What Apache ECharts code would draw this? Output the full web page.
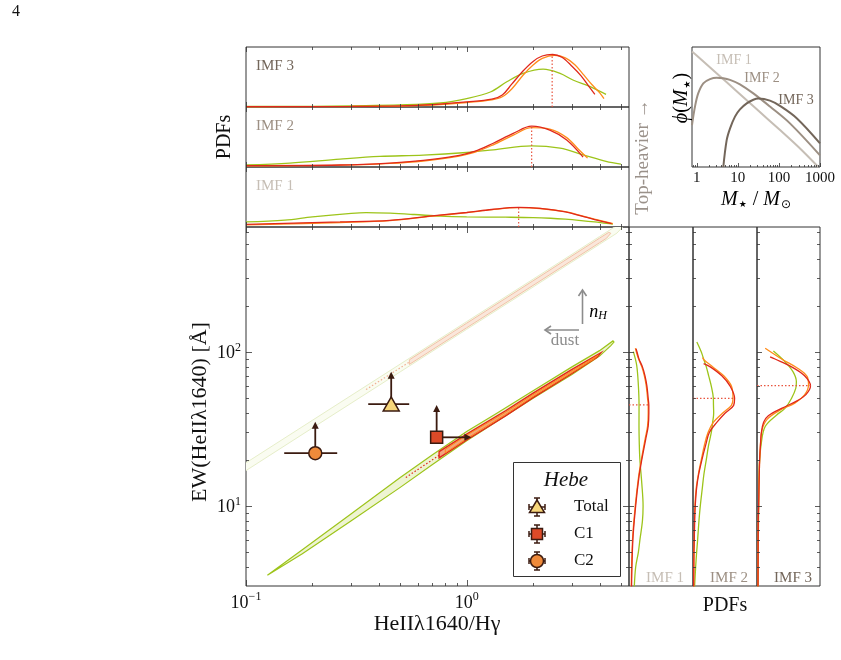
<!DOCTYPE html>
<html>
<head>
<meta charset="utf-8">
<script src="https://cdn.jsdelivr.net/npm/echarts@6.0.0/dist/echarts.min.js"></script>
<style>
html,body{margin:0;padding:0;background:#ffffff;}
#chart{width:841px;height:660px;}
</style>
</head>
<body>
<div id="chart"></div>
<script>
// ======================= DATA =======================
// Hebe measurements (main panel): x = HeII1640/Hgamma, y = EW(HeII1640)
const hebeNames = ['Total', 'C1', 'C2'];
const hebeX = [0.455, 0.731, 0.206];
const hebeY = [45.9, 27.9, 22.0];
const hebeXErrLo = [0.358, null, 0.149];
const hebeXErrHi = [0.549, null, 0.259];
const hebeYLimitTo = [74.5, 45.3, 35.2];   // lower-limit arrows (EW)
const hebeXLimitTo = [null, 1.05, null];   // lower-limit arrow (ratio)

// model contours in the main panel (closed outlines: [ratio, EW])
const faintOuter = [[0.09,17.3],[0.2,36.0],[0.5,83.4],[1,157.5],[2,297],[3,431],[4,562],[5,689],[5.1,650],[4.8,592],[4,500],[3,384],[2,264],[1,140.3],[0.5,74.3],[0.2,32.1],[0.09,15.4]];
const faintInner = [[0.55,89],[1,153.8],[2,290],[3,421],[4,548.6],[4.4,598],[4.5,590],[4.3,547],[4,512],[3,393],[2,270.5],[1,143.5],[0.55,83]];
const faintDots = [[0.35,57],[0.55,86]];
const lowerGreen = [[0.125,3.55],[0.18,5.2],[0.3,8.9],[0.5,15.3],[0.7,21.5],[1,30.4],[1.37,40],[2,56],[3,80],[4,102],[4.6,118],[4.65,116],[4.5,110],[4,94],[3,71.5],[2,50],[1,26.5],[0.7,18.6],[0.5,13.2],[0.3,8.0],[0.18,4.9],[0.125,3.55]];
const lowerRed = [[0.75,22.5],[1,29.3],[1.5,41.5],[2,54],[3,77],[4.05,98.5],[3.9,92.5],[3,72.5],[2,50.5],[1.5,38.5],[1,26.8],[0.75,20.5]];
const lowerOrange = [[0.8,23.3],[1,28.8],[1.5,40.6],[2,52.8],[3,75.3],[3.95,95.5],[3.8,90.5],[3,73.6],[2,51.5],[1.5,39.3],[1,27.4],[0.8,22.1]];
const lowerRedDots = [[0.53,15.3],[0.75,21.3]];

// top PDFs: [ratio, pdf]
const topIMF3Green = [[0.1,0.008],[0.2,0.012],[0.3,0.02],[0.5,0.034],[0.76,0.067],[1.0,0.14],[1.28,0.25],[1.52,0.42],[1.8,0.56],[2.22,0.63],[2.65,0.56],[3.03,0.45],[3.63,0.34],[4.28,0.21]];
const topIMF3Orange = [[0.1,0.004],[0.3,0.008],[0.5,0.016],[0.7,0.033],[1.0,0.075],[1.3,0.12],[1.45,0.17],[1.6,0.3],[1.8,0.53],[2.0,0.7],[2.2,0.81],[2.5,0.86],[2.8,0.82],[3.1,0.7],[3.4,0.53],[3.7,0.37],[4.0,0.24],[4.19,0.14]];
const topIMF3Red = [[0.1,0.005],[0.3,0.01],[0.5,0.02],[0.7,0.04],[1.0,0.084],[1.3,0.13],[1.45,0.2],[1.6,0.38],[1.8,0.6],[2.0,0.76],[2.2,0.85],[2.45,0.875],[2.7,0.83],[3.0,0.68],[3.3,0.52],[3.6,0.33],[3.81,0.21]];
const topIMF3Peak = [2.44, 0.875];
const topIMF2Green = [[0.1,0.033],[0.158,0.066],[0.267,0.132],[0.404,0.176],[0.636,0.198],[1.0,0.242],[1.32,0.286],[1.97,0.352],[2.65,0.313],[3.37,0.203],[4.28,0.093],[5.0,0.049]];
const topIMF2Orange = [[0.1,0.018],[0.267,0.03],[0.449,0.06],[0.636,0.1],[0.87,0.165],[1.084,0.245],[1.32,0.37],[1.626,0.53],[1.97,0.655],[2.38,0.63],[2.84,0.49],[3.2,0.3],[3.53,0.148]];
const topIMF2Red = [[0.1,0.022],[0.267,0.033],[0.449,0.066],[0.636,0.11],[0.87,0.176],[1.084,0.26],[1.32,0.396],[1.626,0.56],[1.97,0.68],[2.38,0.615],[2.84,0.45],[3.37,0.165]];
const topIMF2Peak = [1.97, 0.68];
const topIMF1Green = [[0.1,0.084],[0.15,0.115],[0.2,0.17],[0.3,0.228],[0.35,0.24],[0.45,0.23],[0.58,0.208],[0.76,0.18],[1.0,0.168],[1.5,0.163],[2.0,0.157],[2.4,0.146],[2.8,0.13],[3.3,0.107],[3.8,0.084],[4.3,0.06],[4.6,0.05]];
const topIMF1Orange = [[0.1,0.035],[0.267,0.075],[0.449,0.105],[0.698,0.18],[1.0,0.238],[1.3,0.288],[1.72,0.322],[2.15,0.308],[2.8,0.255],[3.3,0.19],[3.8,0.13],[4.6,0.055]];
const topIMF1Red = [[0.1,0.045],[0.267,0.084],[0.449,0.112],[0.698,0.185],[1.0,0.242],[1.3,0.292],[1.72,0.326],[2.15,0.31],[2.8,0.253],[3.3,0.185],[3.8,0.124],[4.54,0.056]];
const topIMF1Peak = [1.72, 0.326];

// right PDFs: [pdf, EW]
const rightIMF1Green = [[0.083,3],[0.104,4],[0.146,5],[0.17,6],[0.21,8],[0.22,10],[0.2,14],[0.17,20],[0.16,26],[0.156,33],[0.157,45],[0.146,61],[0.12,82],[0.068,100.6]];
const rightIMF1Orange = [[0.035,3],[0.055,6],[0.098,10],[0.15,15.5],[0.193,20],[0.25,27],[0.29,33],[0.3,40],[0.3,45],[0.29,50],[0.27,60],[0.24,70],[0.2,80],[0.15,90],[0.115,100],[0.1,106]];
const rightIMF1Red = [[0.04,3],[0.06,6],[0.104,10],[0.156,15.5],[0.2,20],[0.26,27],[0.3,33],[0.31,40],[0.31,45],[0.30,50],[0.28,60],[0.25,70],[0.21,80],[0.156,90],[0.125,100],[0.11,105]];
const rightIMF1Peak = [0.31, 45.3];
const rightIMF2Green = [[0.025,3],[0.041,4],[0.057,5],[0.072,6],[0.093,8],[0.114,10],[0.145,13],[0.17,16],[0.208,20],[0.245,25],[0.286,30],[0.307,35],[0.323,40],[0.32,45],[0.318,50],[0.286,60],[0.245,70],[0.208,80],[0.166,90],[0.13,100],[0.06,116]];
const rightIMF2Orange = [[0.01,3],[0.015,5],[0.02,6],[0.025,8],[0.03,10],[0.05,13],[0.083,16],[0.13,20],[0.18,25],[0.235,30],[0.32,35],[0.46,40],[0.6,45],[0.625,50],[0.6,60],[0.48,70],[0.31,80],[0.17,89],[0.15,92]];
const rightIMF2Red = [[0.01,3],[0.015,5],[0.02,6],[0.025,8],[0.035,10],[0.056,13],[0.088,16],[0.14,20],[0.2,25],[0.255,30],[0.375,35],[0.5,40],[0.635,45],[0.65,50],[0.58,60],[0.45,70],[0.27,80],[0.166,84]];
const rightIMF2Peak = [0.64, 50];
const rightIMF3Green = [[0.016,3],[0.026,9.9],[0.036,18],[0.068,25.5],[0.13,32.8],[0.313,39],[0.443,43],[0.547,49.9],[0.615,58],[0.625,64.1],[0.573,74.2],[0.443,86.6],[0.26,101.5]];
const rightIMF3Orange = [[0.016,3],[0.02,8],[0.026,10],[0.031,13],[0.036,16],[0.042,20],[0.055,25],[0.078,31],[0.16,36.5],[0.37,42],[0.6,46.5],[0.755,52.6],[0.818,60.9],[0.797,69.1],[0.651,78.1],[0.39,90.1],[0.13,105.7]];
const rightIMF3Red = [[0.016,3],[0.02,8],[0.026,10],[0.031,13],[0.036,16],[0.042,20],[0.055,25],[0.07,30],[0.105,35],[0.18,38.5],[0.39,43],[0.65,48.5],[0.78,53],[0.849,60],[0.755,70],[0.547,80],[0.286,90],[0.208,93]];
const rightIMF3Peak = [0.85, 60.4];

// inset IMFs: [M*/Msun, phi]
const imf1 = [[0.77,0.776],[1,0.617],[3,0.224],[10,0.0741],[30,0.0269],[100,0.00891],[300,0.00316],[912,0.001]];
const imf2 = [[0.77,0.0112],[0.91,0.0324],[1.09,0.0692],[1.45,0.124],[2.11,0.157],[3.07,0.170],[4.45,0.166],[6.46,0.151],[11.3,0.117],[23.9,0.0692],[60.7,0.0324],[186,0.0123],[1000,0.00195]];
const imf3 = [[4.45,0.001],[5.37,0.00468],[6.46,0.00912],[8.55,0.0182],[11.3,0.0275],[16.5,0.0389],[23.9,0.0479],[31.5,0.0513],[60.7,0.0457],[106,0.0339],[271,0.0166],[1000,0.00389]];

// tick positions
const ratioMajorTicks = [0.1, 1];
const ratioMinorTicks = [0.2,0.3,0.4,0.5,0.6,0.7,0.8,0.9,2,3,4,5];
const ewMajorTicks = [10, 100];
const ewMinorTicks = [4,5,6,7,8,9,20,30,40,50,60,70,80,90,200,300,400,500,600];
const massMajorTicks = [1, 10, 100, 1000];
const massMinorTicks = [0.8,0.9,2,3,4,5,6,7,8,9,20,30,40,50,60,70,80,90,200,300,400,500,600,700,800,900];

// ======================= STYLE =======================
const FONT = "'Liberation Serif','DejaVu Serif',serif";
const GREEN = '#9dc41a', ORANGE = '#ff8c1a', RED = '#e0281b', DOTRED = '#e8553f';
const DARK = '#3b1b10', GRAY = '#8c8c8c';
const IMFC = ['#c6beb5', '#9c8f83', '#73665a'];

const chart = echarts.init(document.getElementById('chart'), null, {renderer: 'canvas'});

const gridRects = [
  {left:246, top:47, width:383, height:60},
  {left:246, top:107, width:383, height:60},
  {left:246, top:167, width:383, height:60},
  {left:246, top:227, width:383, height:359},
  {left:629, top:227, width:64, height:359},
  {left:693, top:227, width:64, height:359},
  {left:757, top:227, width:63, height:359},
  {left:692, top:47, width:128, height:120}
];
const grid = gridRects.map(r => Object.assign({show:true, borderColor:'#333', borderWidth:1, backgroundColor:'rgba(0,0,0,0)', containLabel:false, outerBoundsMode:'none'}, r));

function decadeLabel(v) {
  const e = Math.log10(v), r = Math.round(e);
  if (Math.abs(e - r) > 1e-6) return '';
  return '{b|10}{s|' + (r < 0 ? '\u2212' + (-r) : r) + '}';
}
const decRich = {
  b: {fontFamily: FONT, fontSize: 18, color: '#111', verticalAlign: 'bottom'},
  s: {fontFamily: FONT, fontSize: 12, color: '#111', verticalAlign: 'bottom', padding: [0, 0, 9, 0]}
};
function ax(gi, type, min, max, extra) {
  const a = {gridIndex: gi, type: type, min: min, max: max, axisLine: {show: false}, axisTick: {show: false},
    splitLine: {show: false}, minorTick: {show: false}, axisLabel: {show: false}};
  if (type === 'log') a.logBase = 10;
  return Object.assign(a, extra || {});
}
const RMIN = 0.1, RMAX = 5.44, EMIN = 3.02, EMAX = 648;
const xAxis = [
  ax(0, 'log', RMIN, RMAX), ax(1, 'log', RMIN, RMAX), ax(2, 'log', RMIN, RMAX),
  ax(3, 'log', RMIN, RMAX, {axisLabel: {show: true, formatter: decadeLabel, rich: decRich, margin: 5, interval: 0, hideOverlap: false}}),
  ax(4, 'value', 0, 1), ax(5, 'value', 0, 1), ax(6, 'value', 0, 1),
  ax(7, 'log', 0.77, 1000, {axisLabel: {show: true, interval: 0, margin: 4, fontFamily: FONT, fontSize: 15, color: '#111',
    formatter: v => { const e = Math.log10(v); return Math.abs(e - Math.round(e)) < 1e-6 ? String(Math.round(v)) : ''; }}})
];
const yAxis = [
  ax(0, 'value', 0, 1), ax(1, 'value', 0, 1), ax(2, 'value', 0, 1),
  ax(3, 'log', EMIN, EMAX, {axisLabel: {show: true, formatter: decadeLabel, rich: decRich, margin: 5, interval: 0, hideOverlap: false}}),
  ax(4, 'log', EMIN, EMAX), ax(5, 'log', EMIN, EMAX), ax(6, 'log', EMIN, EMAX),
  ax(7, 'log', 0.001, 1)
];

const OTHER = [[1, 0.5], [1, 0.5], [1, 0.5], [1, 10], [0.5, 10], [0.5, 10], [0.5, 10], [10, 0.01]];
function tickSeries(gi, dir, vals, len, sides) {
  return {
    type: 'custom', xAxisIndex: gi, yAxisIndex: gi, silent: true, clip: false, z: 6,
    data: vals.map(v => dir === 'x' ? [v, OTHER[gi][1]] : [OTHER[gi][0], v]),
    renderItem: function (params, api) {
      const cs = params.coordSys;
      const p = api.coord([api.value(0), api.value(1)]);
      const st = {stroke: '#333', lineWidth: 0.8};
      const kids = [];
      if (dir === 'x') {
        const x = Math.round(p[0]) + 0.5;
        if (sides.indexOf('b') >= 0) kids.push({type: 'line', shape: {x1: x, y1: cs.y + cs.height, x2: x, y2: cs.y + cs.height - len}, style: st});
        if (sides.indexOf('t') >= 0) kids.push({type: 'line', shape: {x1: x, y1: cs.y, x2: x, y2: cs.y + len}, style: st});
      } else {
        const y = Math.round(p[1]) + 0.5;
        if (sides.indexOf('l') >= 0) kids.push({type: 'line', shape: {x1: cs.x, y1: y, x2: cs.x + len, y2: y}, style: st});
        if (sides.indexOf('r') >= 0) kids.push({type: 'line', shape: {x1: cs.x + cs.width, y1: y, x2: cs.x + cs.width - len, y2: y}, style: st});
      }
      return {type: 'group', children: kids};
    }
  };
}
function polySeries(gi, pts, fill, stroke, lw, z) {
  return {
    type: 'custom', xAxisIndex: gi, yAxisIndex: gi, silent: true, clip: true, z: z,
    data: [pts[0]],
    renderItem: function (params, api) {
      return {type: 'polygon', shape: {points: pts.map(p => api.coord(p))}, style: {fill: fill, stroke: stroke, lineWidth: lw}};
    }
  };
}
function lineS(gi, data, color, extra) {
  return Object.assign({type: 'line', xAxisIndex: gi, yAxisIndex: gi, data: data, smooth: 0.35, symbol: 'none',
    silent: true, lineStyle: {color: color, width: 1.3}, z: 3}, extra || {});
}
function dotS(gi, data, color) {
  return lineS(gi, data, color, {smooth: false, z: 4, lineStyle: {color: color, width: 1.2, type: [1.5, 2]}});
}

const series = [];
// top PDFs
[[0, topIMF3Green, topIMF3Orange, topIMF3Red, topIMF3Peak],
 [1, topIMF2Green, topIMF2Orange, topIMF2Red, topIMF2Peak],
 [2, topIMF1Green, topIMF1Orange, topIMF1Red, topIMF1Peak]].forEach(d => {
  const gi = d[0];
  series.push(dotS(gi, [[d[4][0], 0], [d[4][0], d[4][1]]], DOTRED));
  series.push(lineS(gi, d[1], GREEN));
  series.push(lineS(gi, d[2], ORANGE));
  series.push(lineS(gi, d[3], RED));
  series.push(tickSeries(gi, 'x', ratioMajorTicks, 5, 'bt'));
  series.push(tickSeries(gi, 'x', ratioMinorTicks, 3, 'bt'));
});
// right PDFs
[[4, rightIMF1Green, rightIMF1Orange, rightIMF1Red, rightIMF1Peak],
 [5, rightIMF2Green, rightIMF2Orange, rightIMF2Red, rightIMF2Peak],
 [6, rightIMF3Green, rightIMF3Orange, rightIMF3Red, rightIMF3Peak]].forEach(d => {
  const gi = d[0];
  series.push(dotS(gi, [[0, d[4][1]], [d[4][0], d[4][1]]], DOTRED));
  series.push(lineS(gi, d[1], GREEN));
  series.push(lineS(gi, d[2], ORANGE));
  series.push(lineS(gi, d[3], RED));
  const sides = gi === 6 ? 'lr' : 'l';
  series.push(tickSeries(gi, 'y', ewMajorTicks, 5, sides));
  series.push(tickSeries(gi, 'y', ewMinorTicks, 3, sides));
});
// main panel contours
series.push(polySeries(3, faintOuter, '#fafcf1', '#e6eec9', 1, 1));
series.push(polySeries(3, faintInner, '#fae6da', '#f1c2a6', 1, 2));
series.push(dotS(3, faintDots, '#f0b094'));
series.push(polySeries(3, lowerGreen, '#eef4d2', GREEN, 1.2, 2));
series.push(polySeries(3, lowerRed, '#f2a57f', RED, 1.4, 3));
series.push(polySeries(3, lowerOrange, 'rgba(0,0,0,0)', ORANGE, 1, 3));
series.push(dotS(3, lowerRedDots, RED));
series.push(tickSeries(3, 'x', ratioMajorTicks, 6, 'bt'));
series.push(tickSeries(3, 'x', ratioMinorTicks, 3, 'bt'));
series.push(tickSeries(3, 'y', ewMajorTicks, 6, 'lr'));
series.push(tickSeries(3, 'y', ewMinorTicks, 3, 'lr'));
// Hebe error bars and limit arrows
series.push({
  type: 'custom', xAxisIndex: 3, yAxisIndex: 3, silent: true, clip: false, z: 8,
  data: hebeX.map((x, i) => [x, hebeY[i]]),
  renderItem: function (params, api) {
    const i = params.dataIndex;
    const p = api.coord([hebeX[i], hebeY[i]]);
    const st = {stroke: DARK, lineWidth: 1.8};
    const kids = [];
    if (hebeXErrLo[i] != null) {
      const a = api.coord([hebeXErrLo[i], hebeY[i]]), b = api.coord([hebeXErrHi[i], hebeY[i]]);
      kids.push({type: 'line', shape: {x1: a[0], y1: a[1], x2: b[0], y2: b[1]}, style: st});
    }
    if (hebeYLimitTo[i] != null) {
      const t = api.coord([hebeX[i], hebeYLimitTo[i]]);
      kids.push({type: 'line', shape: {x1: p[0], y1: p[1], x2: t[0], y2: t[1] + 5}, style: st});
      kids.push({type: 'polygon', shape: {points: [[t[0], t[1]], [t[0] - 3.5, t[1] + 7], [t[0] + 3.5, t[1] + 7]]}, style: {fill: DARK}});
    }
    if (hebeXLimitTo[i] != null) {
      const t = api.coord([hebeXLimitTo[i], hebeY[i]]);
      kids.push({type: 'line', shape: {x1: p[0], y1: p[1], x2: t[0] - 5, y2: t[1]}, style: st});
      kids.push({type: 'polygon', shape: {points: [[t[0], t[1]], [t[0] - 7, t[1] - 3.5], [t[0] - 7, t[1] + 3.5]]}, style: {fill: DARK}});
    }
    return {type: 'group', children: kids};
  }
});
const hebeSymbols = [['triangle', [16, 14], '#f7d67a'], ['rect', 12, '#dd4a28'], ['circle', 13, '#ef8a3a']];
hebeNames.forEach((n, i) => {
  series.push({type: 'scatter', name: n, xAxisIndex: 3, yAxisIndex: 3, data: [[hebeX[i], hebeY[i]]],
    symbol: hebeSymbols[i][0], symbolSize: hebeSymbols[i][1], silent: true, z: 10,
    itemStyle: {color: hebeSymbols[i][2], borderColor: DARK, borderWidth: 1.5, opacity: 1}});
});
// inset IMFs
series.push(lineS(7, imf1, IMFC[0], {lineStyle: {color: IMFC[0], width: 2}}));
series.push(lineS(7, imf2, IMFC[1], {lineStyle: {color: IMFC[1], width: 2}}));
series.push(lineS(7, imf3, IMFC[2], {lineStyle: {color: IMFC[2], width: 2}}));
series.push(tickSeries(7, 'x', massMajorTicks, 4, 'b'));
series.push(tickSeries(7, 'x', massMinorTicks, 2, 'b'));

// ======================= TEXT / ANNOTATIONS =======================
function txt(x, y, text, size, color, extra) {
  return Object.assign({type: 'text', x: x, y: y, z: 100, silent: true,
    style: {text: text, font: size + 'px ' + FONT, fill: color || '#111', align: 'center', verticalAlign: 'middle'}}, extra || {});
}
function txtL(x, y, text, size, color, align) {
  return {type: 'text', x: x, y: y, z: 100, silent: true,
    style: {text: text, font: size + 'px ' + FONT, fill: color, align: align, verticalAlign: 'middle'}};
}
const graphic = [];
graphic.push(txt(16, 12, '4', 16));
graphic.push(txt(437, 624, 'HeII\u03bb1640/H\u03b3', 22));
graphic.push(txt(200, 412, 'EW(HeII\u03bb1640) [\u00c5]', 22, '#111', {rotation: Math.PI / 2}));
graphic.push(txt(225, 137, 'PDFs', 20, '#111', {rotation: Math.PI / 2}));
graphic.push(txt(725, 606, 'PDFs', 20));
graphic.push(txt(643, 157, 'Top-heavier \u2192', 19, '#9a918a', {rotation: Math.PI / 2}));
// panel labels
graphic.push(txtL(256, 66, 'IMF 3', 15, IMFC[2], 'left'));
graphic.push(txtL(256, 126, 'IMF 2', 15, IMFC[1], 'left'));
graphic.push(txtL(256, 186, 'IMF 1', 15, IMFC[0], 'left'));
graphic.push(txtL(684, 578, 'IMF 1', 15, IMFC[0], 'right'));
graphic.push(txtL(748, 578, 'IMF 2', 15, IMFC[1], 'right'));
graphic.push(txtL(812, 578, 'IMF 3', 15, IMFC[2], 'right'));
// inset labels
graphic.push(txt(734, 60, 'IMF 1', 14, IMFC[0]));
graphic.push(txt(762, 78, 'IMF 2', 14, IMFC[1]));
graphic.push(txt(796, 100, 'IMF 3', 14, IMFC[2]));
const mathRich = {
  n: {fontFamily: FONT, fontSize: 20, color: '#111'},
  i: {fontFamily: FONT, fontSize: 20, fontStyle: 'italic', color: '#111'},
  sub: {fontFamily: "'DejaVu Sans',sans-serif", fontSize: 9, color: '#111', verticalAlign: 'top', padding: [11, 1, 0, 1]},
  sun: {fontFamily: "'DejaVu Sans',sans-serif", fontSize: 12, color: '#111', verticalAlign: 'top', padding: [9, 0, 0, 1]}
};
graphic.push({type: 'text', x: 682, y: 98, rotation: Math.PI / 2, z: 100, silent: true,
  style: {text: '{i|\u03d5}{n|(}{i|M}{sub|\u2605}{n|)}', rich: mathRich, align: 'center', verticalAlign: 'middle'}});
graphic.push({type: 'text', x: 756, y: 200, z: 100, silent: true,
  style: {text: '{i|M}{sub|\u2605}{n| / }{i|M}{sun|\u2299}', rich: mathRich, align: 'center', verticalAlign: 'middle'}});
// arrows n_H and dust
graphic.push({type: 'line', z: 100, silent: true, shape: {x1: 582.5, y1: 324, x2: 582.5, y2: 291}, style: {stroke: GRAY, lineWidth: 1.6}});
graphic.push({type: 'polyline', z: 100, silent: true, shape: {points: [[578.5, 296], [582.5, 290], [586.5, 296]]}, style: {stroke: GRAY, lineWidth: 1.6, fill: null}});
graphic.push({type: 'line', z: 100, silent: true, shape: {x1: 579, y1: 330, x2: 546, y2: 330}, style: {stroke: GRAY, lineWidth: 1.6}});
graphic.push({type: 'polyline', z: 100, silent: true, shape: {points: [[551, 326], [545, 330], [551, 334]]}, style: {stroke: GRAY, lineWidth: 1.6, fill: null}});
graphic.push(txt(565, 341, 'dust', 17, GRAY));
graphic.push({type: 'text', x: 598, y: 312, z: 100, silent: true,
  style: {text: '{i|n}{s|H}', align: 'center', verticalAlign: 'middle',
    rich: {i: {fontFamily: FONT, fontSize: 18, fontStyle: 'italic', color: GRAY},
           s: {fontFamily: FONT, fontSize: 12, fontStyle: 'italic', color: GRAY, verticalAlign: 'top', padding: [8, 0, 0, 0]}}}});
// legend
graphic.push({type: 'rect', z: 100, silent: true, shape: {x: 513.5, y: 462.5, width: 107, height: 114}, style: {fill: '#fff', stroke: '#333', lineWidth: 1}});
graphic.push({type: 'text', x: 566, y: 480, z: 101, silent: true, style: {text: 'Hebe', font: 'italic 21px ' + FONT, fill: '#111', align: 'center', verticalAlign: 'middle'}});
const legY = [507, 534, 561], legX = 537;
hebeNames.forEach((n, i) => {
  const y = legY[i], x = legX;
  const st = {stroke: DARK, lineWidth: 1.5};
  [[x - 8, y, x + 8, y], [x - 8, y - 3, x - 8, y + 3], [x + 8, y - 3, x + 8, y + 3],
   [x, y - 9, x, y + 9], [x - 3, y - 9, x + 3, y - 9], [x - 3, y + 9, x + 3, y + 9]].forEach(l => {
    graphic.push({type: 'line', z: 101, silent: true, shape: {x1: l[0], y1: l[1], x2: l[2], y2: l[3]}, style: st});
  });
  const mst = {fill: hebeSymbols[i][2], stroke: DARK, lineWidth: 1.5};
  if (i === 0) graphic.push({type: 'polygon', z: 102, silent: true, shape: {points: [[x, y - 7], [x - 7.5, y + 5.5], [x + 7.5, y + 5.5]]}, style: mst});
  if (i === 1) graphic.push({type: 'rect', z: 102, silent: true, shape: {x: x - 5.5, y: y - 5.5, width: 11, height: 11}, style: mst});
  if (i === 2) graphic.push({type: 'circle', z: 102, silent: true, shape: {cx: x, cy: y, r: 6.5}, style: mst});
  graphic.push({type: 'text', x: 574, y: y, z: 101, silent: true, style: {text: n, font: '17px ' + FONT, fill: '#111', align: 'left', verticalAlign: 'middle'}});
});

chart.setOption({
  animation: false,
  backgroundColor: '#ffffff',
  grid: grid,
  xAxis: xAxis,
  yAxis: yAxis,
  series: series,
  graphic: graphic
});
</script>
</body>
</html>
